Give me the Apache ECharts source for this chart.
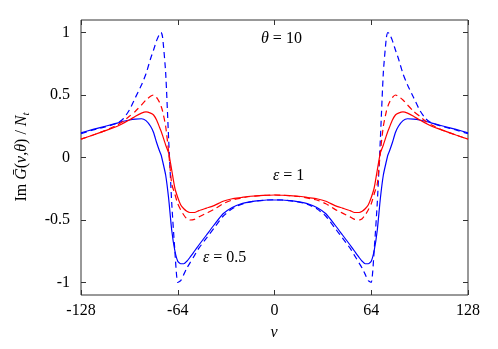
<!DOCTYPE html>
<html>
<head>
<meta charset="utf-8">
<script src="https://cdn.jsdelivr.net/npm/echarts@6/dist/echarts.min.js"></script>
<style>
html,body{margin:0;padding:0;background:#fff;}
#chart{width:498px;height:349px;}
</style>
</head>
<body>
<div id="chart"></div>
<script>
var nu = [-128,-120,-112,-104,-100,-96,-92,-88,-85,-82,-80,-78,-76,-75,-74,-72,-70,-68,-66,-64,-62,-60,-58,-56,-53,-50,-45,-40,-34,-28,-22,-16,-10,-5,
  0,
  5,10,16,22,28,34,40,45,50,53,56,58,60,62,64,66,68,70,72,74,75,76,78,80,82,85,88,92,96,100,104,112,120,128];

var blueDashed = [0.19,0.22,0.245,0.275,0.31,0.38,0.48,0.58,0.67,0.79,0.86,0.935,0.99,1.0,0.96,0.68,0.14,-0.36,-0.73,-1.0,-0.985,-0.935,-0.885,-0.845,-0.785,-0.725,-0.645,-0.565,-0.47,-0.41,-0.375,-0.355,-0.345,-0.34,
  -0.338,
  -0.34,-0.345,-0.355,-0.375,-0.41,-0.47,-0.565,-0.645,-0.725,-0.785,-0.845,-0.885,-0.935,-0.985,-1.0,-0.73,-0.36,0.14,0.68,0.96,1.0,0.99,0.935,0.86,0.79,0.67,0.58,0.48,0.38,0.31,0.275,0.245,0.22,0.19];

var blueSolid = [0.197,0.225,0.25,0.275,0.29,0.30,0.307,0.31,0.295,0.25,0.2,0.12,0.05,0.02,-0.03,-0.14,-0.33,-0.58,-0.74,-0.83,-0.85,-0.85,-0.83,-0.80,-0.75,-0.70,-0.62,-0.54,-0.45,-0.40,-0.37,-0.355,-0.345,-0.34,
  -0.34,
  -0.34,-0.345,-0.355,-0.37,-0.40,-0.45,-0.54,-0.62,-0.70,-0.75,-0.80,-0.83,-0.85,-0.85,-0.83,-0.74,-0.58,-0.33,-0.14,-0.03,0.02,0.05,0.12,0.2,0.25,0.295,0.31,0.307,0.30,0.29,0.275,0.25,0.225,0.197];

var redSolid = [0.147,0.18,0.215,0.25,0.275,0.30,0.33,0.355,0.365,0.355,0.34,0.30,0.24,0.21,0.175,0.10,0.035,-0.10,-0.24,-0.32,-0.38,-0.41,-0.43,-0.44,-0.44,-0.425,-0.405,-0.385,-0.35,-0.33,-0.32,-0.31,-0.305,-0.302,
  -0.30,
  -0.302,-0.305,-0.31,-0.32,-0.33,-0.35,-0.385,-0.405,-0.425,-0.44,-0.44,-0.43,-0.41,-0.38,-0.32,-0.24,-0.10,0.035,0.10,0.175,0.21,0.24,0.30,0.34,0.355,0.365,0.355,0.33,0.30,0.275,0.25,0.215,0.18,0.147];

var redDashed = [0.147,0.18,0.215,0.26,0.29,0.33,0.37,0.42,0.46,0.49,0.50,0.48,0.44,0.41,0.37,0.25,0.04,-0.21,-0.29,-0.37,-0.42,-0.46,-0.49,-0.50,-0.495,-0.475,-0.445,-0.415,-0.37,-0.34,-0.325,-0.312,-0.306,-0.302,
  -0.30,
  -0.302,-0.306,-0.312,-0.325,-0.34,-0.37,-0.415,-0.445,-0.475,-0.495,-0.50,-0.49,-0.46,-0.42,-0.37,-0.29,-0.21,0.04,0.25,0.37,0.41,0.44,0.48,0.50,0.49,0.46,0.42,0.37,0.33,0.29,0.26,0.215,0.18,0.147];

var xTicks = [-128,-64,0,64,128];
var yTicks = [-1,-0.5,0,0.5,1];

var FONT = '"Liberation Serif","Times New Roman",serif';
var BLUE = '#0000ff';
var RED = '#ff0000';

function pairs(arr){ return nu.map(function(v,i){ return [v, arr[i]]; }); }

var chart = echarts.init(document.getElementById('chart'), null, {renderer:'canvas'});

function lineSeries(name, arr, color, dashed){
  return {
    name: name, type: 'line', data: pairs(arr), showSymbol: false, smooth: 0.2,
    xAxisIndex: 0, yAxisIndex: 0,
    lineStyle: {color: color, width: 1.2, type: dashed ? [6,4] : 'solid'},
    animation: false
  };
}

function axisCommon(){
  return {axisLine: {show: false, onZero: false}, splitLine: {show: false}};
}

chart.setOption({
  animation: false,
  grid: {left: 81, right: 30, top: 20, bottom: 54, show: true, borderColor: '#333', borderWidth: 1, backgroundColor: 'transparent'},
  xAxis: [
    Object.assign(axisCommon(), {type: 'value', min: -128, max: 128, interval: 64, position: 'bottom',
     axisTick: {show: true, inside: true, length: 5, lineStyle: {color: '#333'}, customValues: xTicks},
     axisLabel: {fontFamily: FONT, fontSize: 16, color: '#000', margin: 8, customValues: xTicks}}),
    Object.assign(axisCommon(), {type: 'value', min: -128, max: 128, interval: 64, position: 'top',
     axisTick: {show: true, inside: true, length: 5, lineStyle: {color: '#333'}, customValues: xTicks},
     axisLabel: {show: false}})
  ],
  yAxis: [
    Object.assign(axisCommon(), {type: 'value', min: -1.1, max: 1.1, position: 'left',
     axisTick: {show: true, inside: true, length: 5, lineStyle: {color: '#333'}, customValues: yTicks},
     axisLabel: {fontFamily: FONT, fontSize: 16, color: '#000', margin: 11, customValues: yTicks}}),
    Object.assign(axisCommon(), {type: 'value', min: -1.1, max: 1.1, position: 'right',
     axisTick: {show: true, inside: true, length: 5, lineStyle: {color: '#333'}, customValues: yTicks},
     axisLabel: {show: false}})
  ],
  series: [
    lineSeries('blueSolid', blueSolid, BLUE, false),
    lineSeries('blueDashed', blueDashed, BLUE, true),
    lineSeries('redSolid', redSolid, RED, false),
    lineSeries('redDashed', redDashed, RED, true)
  ],
  graphic: [
    {type: 'text', x: 261, y: 39, style: {
      text: '{i|θ}{r| = 10}', verticalAlign: 'middle', align: 'left',
      rich: {i: {fontFamily: FONT, fontSize: 16, fontStyle: 'italic', fill: '#000'}, r: {fontFamily: FONT, fontSize: 16, fill: '#000'}}}},
    {type: 'text', x: 273, y: 176, style: {
      text: '{i|ε}{r| = 1}', verticalAlign: 'middle', align: 'left',
      rich: {i: {fontFamily: FONT, fontSize: 16, fontStyle: 'italic', fill: '#000'}, r: {fontFamily: FONT, fontSize: 16, fill: '#000'}}}},
    {type: 'text', x: 203, y: 258, style: {
      text: '{i|ε}{r| = 0.5}', verticalAlign: 'middle', align: 'left',
      rich: {i: {fontFamily: FONT, fontSize: 16, fontStyle: 'italic', fill: '#000'}, r: {fontFamily: FONT, fontSize: 16, fill: '#000'}}}},
    {type: 'text', x: 274, y: 333, style: {
      text: 'ν', align: 'center', verticalAlign: 'middle',
      fontFamily: FONT, fontSize: 16, fontStyle: 'italic', fill: '#000'}},
    {type: 'text', x: 22, y: 157, rotation: Math.PI/2, style: {
      text: '{r|Im }{i|G\u0304}{r|(}{i|ν}{r|,}{i|θ}{r|) / }{i|N}{s|t}', align: 'center', verticalAlign: 'middle',
      rich: {
        r: {fontFamily: FONT, fontSize: 16, fill: '#000', lineHeight: 20, verticalAlign: 'middle'},
        i: {fontFamily: FONT, fontSize: 16, fontStyle: 'italic', fill: '#000', lineHeight: 20, verticalAlign: 'middle'},
        s: {fontFamily: FONT, fontSize: 11, fontStyle: 'italic', fill: '#000', lineHeight: 20, verticalAlign: 'bottom', padding: [6,0,0,0]}
      }}}
  ]
});
</script>
</body>
</html>
